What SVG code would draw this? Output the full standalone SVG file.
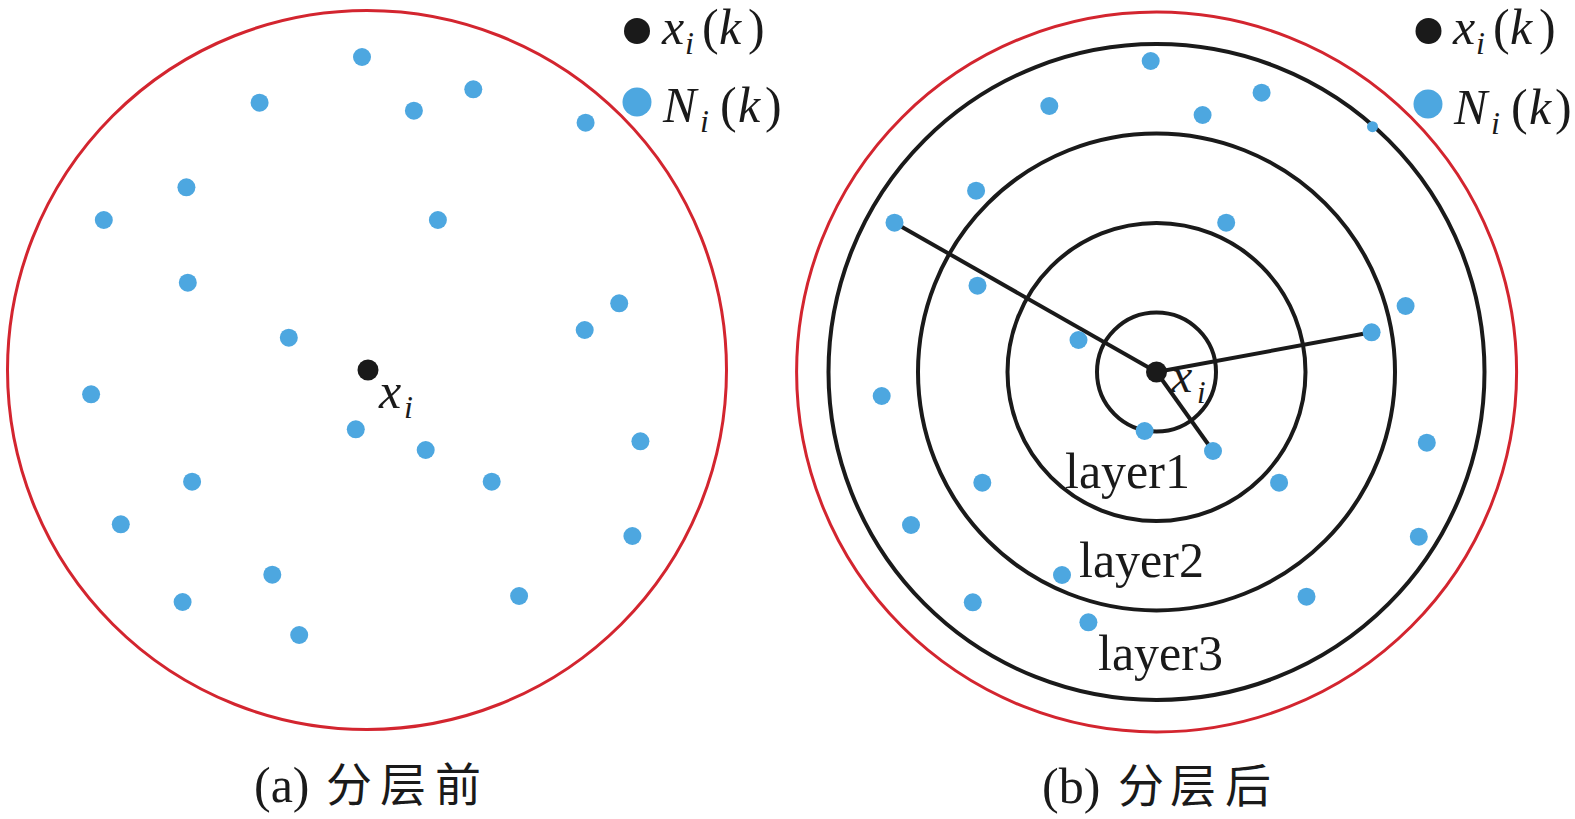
<svg xmlns="http://www.w3.org/2000/svg" width="1575" height="819" viewBox="0 0 1575 819">
<style>
.red{fill:none;stroke:#d3252f;stroke-width:3}
.ring{fill:none;stroke:#1a1a1a;stroke-width:4}
.n{fill:#4da7e0}
.c{fill:#1a1a1a}
.ln{stroke:#1a1a1a;stroke-width:4;fill:none}
.t{font-family:"Liberation Serif","Times New Roman",serif;fill:#1a1a1a}
.it{font-style:italic}
.cjk{font-family:"Noto Sans CJK SC","Noto Sans CJK JP",sans-serif;fill:#1a1a1a}
</style>
<rect width="1575" height="819" fill="#ffffff"/>
<g id="panel-a">
  <circle id="a-boundary" class="red" cx="367" cy="370" r="359.5"/>
  <g id="a-neighbors">
    <circle class="n" cx="362" cy="57" r="9"/>
    <circle class="n" cx="259.6" cy="102.7" r="9"/>
    <circle class="n" cx="473.3" cy="89.3" r="9"/>
    <circle class="n" cx="413.9" cy="110.7" r="9"/>
    <circle class="n" cx="585.6" cy="122.7" r="9"/>
    <circle class="n" cx="186.4" cy="187.3" r="9"/>
    <circle class="n" cx="103.8" cy="220" r="9"/>
    <circle class="n" cx="437.9" cy="220" r="9"/>
    <circle class="n" cx="187.8" cy="282.7" r="9"/>
    <circle class="n" cx="619.2" cy="303.3" r="9"/>
    <circle class="n" cx="584.7" cy="330" r="9"/>
    <circle class="n" cx="288.8" cy="337.7" r="9"/>
    <circle class="n" cx="91.1" cy="394.3" r="9"/>
    <circle class="n" cx="355.8" cy="429.3" r="9"/>
    <circle class="n" cx="425.7" cy="450" r="9"/>
    <circle class="n" cx="640.4" cy="441.3" r="9"/>
    <circle class="n" cx="192.1" cy="481.7" r="9"/>
    <circle class="n" cx="491.7" cy="481.7" r="9"/>
    <circle class="n" cx="120.8" cy="524.3" r="9"/>
    <circle class="n" cx="632.4" cy="536" r="9"/>
    <circle class="n" cx="272.3" cy="574.7" r="9"/>
    <circle class="n" cx="182.6" cy="602" r="9"/>
    <circle class="n" cx="519.1" cy="596" r="9"/>
    <circle class="n" cx="299.2" cy="635" r="9"/>
  </g>
  <g id="a-center">
    <circle class="c" cx="368" cy="370" r="10.5"/>
    <text class="t it" x="379" y="408" font-size="50">x</text>
    <text class="t it" x="404" y="418" font-size="32">i</text>
  </g>
  <g id="a-legend">
    <circle class="c" cx="637" cy="31" r="13"/>
    <text class="t it" x="662" y="44" font-size="50">x</text>
    <text class="t it" x="685" y="54" font-size="32">i</text>
    <text class="t" x="702" y="44" font-size="50">(</text>
    <text class="t it" x="719" y="44" font-size="50">k</text>
    <text class="t" x="748" y="44" font-size="50">)</text>
    <circle class="n" cx="637" cy="102" r="14.5"/>
    <text class="t it" x="663" y="122" font-size="50">N</text>
    <text class="t it" x="700" y="132" font-size="32">i</text>
    <text class="t" x="720" y="122" font-size="50">(</text>
    <text class="t it" x="738" y="122" font-size="50">k</text>
    <text class="t" x="765" y="122" font-size="50">)</text>
  </g>
  <g id="a-caption">
    <text class="t" x="254" y="802" font-size="50">(a)</text>
    <text class="cjk" font-size="46"><tspan x="326" y="801">分</tspan><tspan x="380" y="801">层</tspan><tspan x="435" y="801">前</tspan></text>
  </g>
</g>
<g id="panel-b">
  <circle id="b-boundary" class="red" cx="1156.6" cy="372" r="360"/>
  <g id="b-rings">
    <circle id="ring3" class="ring" cx="1156.5" cy="372" r="328"/>
    <circle id="ring2" class="ring" cx="1156.5" cy="372" r="238.5"/>
    <circle id="ring1" class="ring" cx="1156.5" cy="372" r="149"/>
    <circle id="ring0" class="ring" cx="1156.5" cy="372" r="59.5"/>
  </g>
  <g id="connectors">
    <line class="ln" x1="1156.5" y1="372" x2="894.5" y2="222.7"/>
    <line class="ln" x1="1156.5" y1="372" x2="1371.6" y2="332.3"/>
    <line class="ln" x1="1156.5" y1="372" x2="1213" y2="451"/>
  </g>
  <g id="b-neighbors">
    <circle class="n" cx="1150.7" cy="61" r="9"/>
    <circle class="n" cx="1049.3" cy="106" r="9"/>
    <circle class="n" cx="1261.6" cy="92.7" r="9"/>
    <circle class="n" cx="1202.6" cy="115" r="9"/>
    <circle class="n" cx="1372.5" cy="126.7" r="5.5"/>
    <circle class="n" cx="976.1" cy="190.7" r="9"/>
    <circle class="n" cx="894.5" cy="222.7" r="9"/>
    <circle class="n" cx="1226.2" cy="222.7" r="9"/>
    <circle class="n" cx="977.5" cy="285.7" r="9"/>
    <circle class="n" cx="1405.6" cy="306" r="9"/>
    <circle class="n" cx="1371.6" cy="332.3" r="9"/>
    <circle class="n" cx="1078.5" cy="340" r="9"/>
    <circle class="n" cx="881.7" cy="396" r="9"/>
    <circle class="n" cx="1144.6" cy="431" r="9"/>
    <circle class="n" cx="1213" cy="451" r="9"/>
    <circle class="n" cx="1426.8" cy="442.7" r="9"/>
    <circle class="n" cx="982.3" cy="482.7" r="9"/>
    <circle class="n" cx="1279.1" cy="482.7" r="9"/>
    <circle class="n" cx="911" cy="525" r="9"/>
    <circle class="n" cx="1418.8" cy="536.7" r="9"/>
    <circle class="n" cx="1062" cy="575" r="9"/>
    <circle class="n" cx="972.8" cy="602.3" r="9"/>
    <circle class="n" cx="1306.5" cy="596.7" r="9"/>
    <circle class="n" cx="1088.4" cy="622.3" r="9"/>
  </g>
  <g id="b-center">
    <circle class="c" cx="1156.5" cy="372" r="10.5"/>
    <text class="t it" x="1171" y="392" font-size="48">x</text>
    <text class="t it" x="1197" y="403" font-size="31">i</text>
  </g>
  <g id="b-labels">
    <text class="t" x="1065" y="488" font-size="50">layer1</text>
    <text class="t" x="1079" y="577" font-size="50">layer2</text>
    <text class="t" x="1098" y="670" font-size="50">layer3</text>
  </g>
  <g id="b-legend">
    <circle class="c" cx="1428.5" cy="31" r="13"/>
    <text class="t it" x="1453" y="44" font-size="50">x</text>
    <text class="t it" x="1476" y="54" font-size="32">i</text>
    <text class="t" x="1493" y="44" font-size="50">(</text>
    <text class="t it" x="1510" y="44" font-size="50">k</text>
    <text class="t" x="1539" y="44" font-size="50">)</text>
    <circle class="n" cx="1428" cy="104" r="14.5"/>
    <text class="t it" x="1454" y="124" font-size="50">N</text>
    <text class="t it" x="1491" y="134" font-size="32">i</text>
    <text class="t" x="1511" y="124" font-size="50">(</text>
    <text class="t it" x="1529" y="124" font-size="50">k</text>
    <text class="t" x="1555" y="124" font-size="50">)</text>
  </g>
  <g id="b-caption">
    <text class="t" x="1042" y="803" font-size="50">(b)</text>
    <text class="cjk" font-size="46"><tspan x="1118" y="802">分</tspan><tspan x="1170" y="802">层</tspan><tspan x="1225" y="802">后</tspan></text>
  </g>
</g>
</svg>
